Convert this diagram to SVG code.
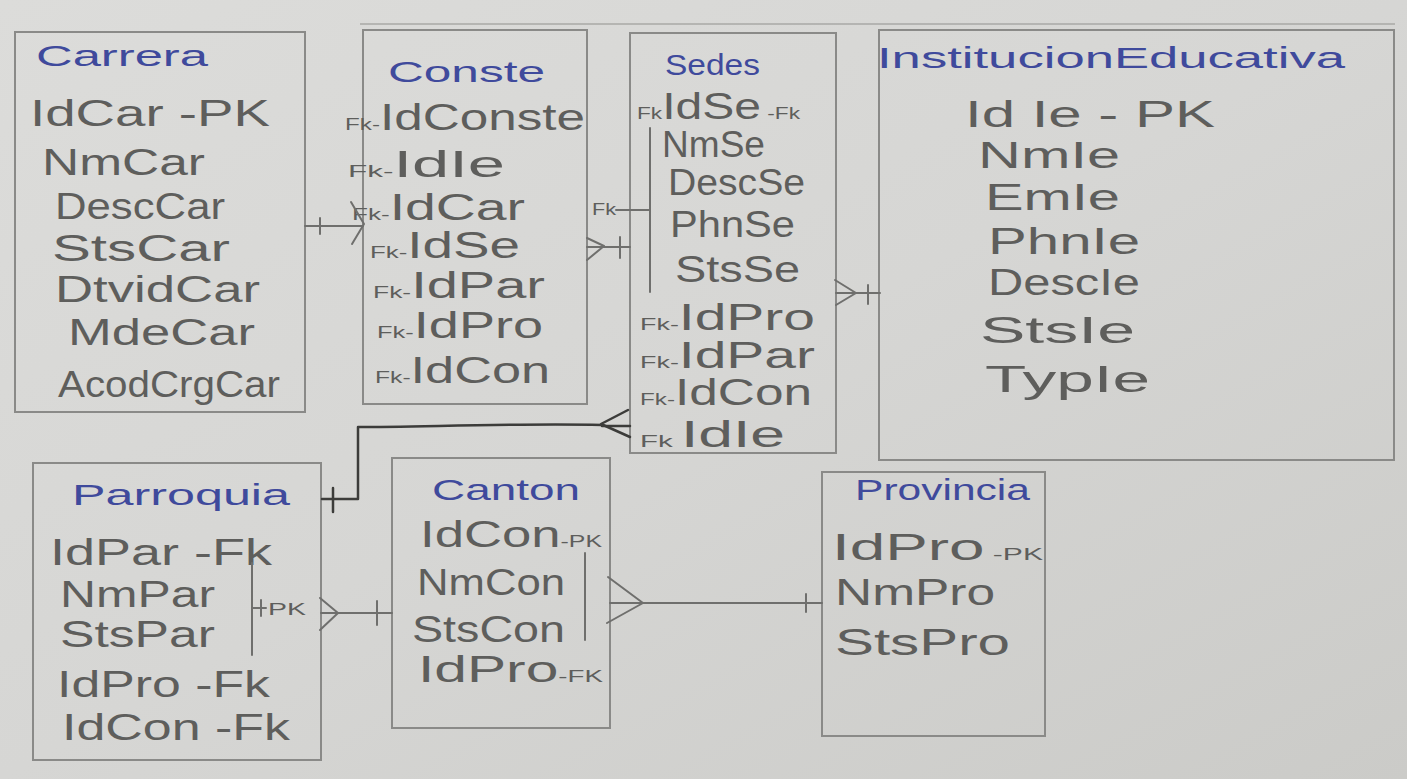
<svg xmlns="http://www.w3.org/2000/svg" width="1407" height="779" viewBox="0 0 1407 779">
<defs>
<linearGradient id="paper" x1="0" y1="0" x2="1" y2="1">
<stop offset="0" stop-color="#dcdcda"/>
<stop offset="0.5" stop-color="#d6d6d4"/>
<stop offset="1" stop-color="#cbcbc8"/>
</linearGradient>
</defs>
<style>
.box{fill:none;stroke:#8a8a88;stroke-width:2}
.t{font-family:"Liberation Sans",Arial,sans-serif;fill:#3f4a9c;font-size:30px}
.a{font-family:"Liberation Sans",Arial,sans-serif;fill:#5e5e5c;font-size:36px}
.s{font-size:17px}
.ln{fill:none;stroke:#6f6f6d;stroke-width:2;stroke-linecap:round;stroke-linejoin:round}
.dk{fill:none;stroke:#3c3c3a;stroke-width:2.5;stroke-linecap:round;stroke-linejoin:round}
</style>
<rect width="1407" height="779" fill="url(#paper)"/>
<line x1="360" y1="24" x2="1395" y2="24" stroke="#a8a8a6" stroke-width="1.5"/>

<g id="carrera">
<rect class="box" x="15" y="32" width="290" height="380"/>
<text class="t" x="36" y="66" textLength="172" lengthAdjust="spacingAndGlyphs">Carrera</text>
<text class="a" x="30" y="126" textLength="240" lengthAdjust="spacingAndGlyphs">IdCar -PK</text>
<text class="a" x="42" y="175" textLength="163" lengthAdjust="spacingAndGlyphs">NmCar</text>
<text class="a" x="55" y="219" textLength="170" lengthAdjust="spacingAndGlyphs">DescCar</text>
<text class="a" x="52" y="261" textLength="178" lengthAdjust="spacingAndGlyphs">StsCar</text>
<text class="a" x="55" y="302" textLength="205" lengthAdjust="spacingAndGlyphs">DtvidCar</text>
<text class="a" x="68" y="345" textLength="187" lengthAdjust="spacingAndGlyphs">MdeCar</text>
<text class="a" x="58" y="397" textLength="222" lengthAdjust="spacingAndGlyphs">AcodCrgCar</text>
</g>

<g id="conste">
<rect class="box" x="363" y="30" width="224" height="374"/>
<text class="t" x="388" y="82" textLength="157" lengthAdjust="spacingAndGlyphs">Conste</text>
<text class="a" x="345" y="130" textLength="240" lengthAdjust="spacingAndGlyphs"><tspan class="s">Fk-</tspan>IdConste</text>
<text class="a" x="348" y="177" textLength="157" lengthAdjust="spacingAndGlyphs"><tspan class="s">Fk-</tspan>IdIe</text>
<text class="a" x="352" y="220" textLength="173" lengthAdjust="spacingAndGlyphs"><tspan class="s">Fk-</tspan>IdCar</text>
<text class="a" x="370" y="258" textLength="150" lengthAdjust="spacingAndGlyphs"><tspan class="s">Fk-</tspan>IdSe</text>
<text class="a" x="373" y="298" textLength="172" lengthAdjust="spacingAndGlyphs"><tspan class="s">Fk-</tspan>IdPar</text>
<text class="a" x="377" y="338" textLength="166" lengthAdjust="spacingAndGlyphs"><tspan class="s">Fk-</tspan>IdPro</text>
<text class="a" x="375" y="383" textLength="175" lengthAdjust="spacingAndGlyphs"><tspan class="s">Fk-</tspan>IdCon</text>
</g>

<g id="sedes">
<rect class="box" x="630" y="33" width="206" height="420"/>
<text class="t" x="665" y="75" textLength="95" lengthAdjust="spacingAndGlyphs">Sedes</text>
<text class="a" x="637" y="119" textLength="163" lengthAdjust="spacingAndGlyphs"><tspan class="s">Fk</tspan>IdSe<tspan class="s"> -Fk</tspan></text>
<text class="a" x="662" y="157" textLength="103" lengthAdjust="spacingAndGlyphs">NmSe</text>
<text class="a" x="668" y="195" textLength="137" lengthAdjust="spacingAndGlyphs">DescSe</text>
<text class="a" x="670" y="237" textLength="125" lengthAdjust="spacingAndGlyphs">PhnSe</text>
<text class="a" x="675" y="282" textLength="125" lengthAdjust="spacingAndGlyphs">StsSe</text>
<text class="a" x="640" y="330" textLength="175" lengthAdjust="spacingAndGlyphs"><tspan class="s">Fk-</tspan>IdPro</text>
<text class="a" x="640" y="368" textLength="175" lengthAdjust="spacingAndGlyphs"><tspan class="s">Fk-</tspan>IdPar</text>
<text class="a" x="640" y="405" textLength="172" lengthAdjust="spacingAndGlyphs"><tspan class="s">Fk-</tspan>IdCon</text>
<text class="a" x="640" y="447" textLength="145" lengthAdjust="spacingAndGlyphs"><tspan class="s">Fk </tspan>IdIe</text>
<line class="ln" x1="650" y1="128" x2="650" y2="292"/>
</g>

<g id="institucion-educativa">
<rect class="box" x="879" y="30" width="515" height="430"/>
<text class="t" x="877" y="68" textLength="468" lengthAdjust="spacingAndGlyphs">InstitucionEducativa</text>
<text class="a" x="965" y="127" textLength="250" lengthAdjust="spacingAndGlyphs">Id Ie - PK</text>
<text class="a" x="978" y="168" textLength="142" lengthAdjust="spacingAndGlyphs">NmIe</text>
<text class="a" x="985" y="210" textLength="135" lengthAdjust="spacingAndGlyphs">EmIe</text>
<text class="a" x="988" y="254" textLength="152" lengthAdjust="spacingAndGlyphs">PhnIe</text>
<text class="a" x="988" y="295" textLength="152" lengthAdjust="spacingAndGlyphs">DescIe</text>
<text class="a" x="980" y="343" textLength="155" lengthAdjust="spacingAndGlyphs">StsIe</text>
<text class="a" x="985" y="392" textLength="165" lengthAdjust="spacingAndGlyphs">TypIe</text>
</g>

<g id="parroquia">
<rect class="box" x="33" y="463" width="288" height="297"/>
<text class="t" x="72" y="505" textLength="218" lengthAdjust="spacingAndGlyphs">Parroquia</text>
<text class="a" x="50" y="565" textLength="222" lengthAdjust="spacingAndGlyphs">IdPar -Fk</text>
<text class="a" x="60" y="607" textLength="155" lengthAdjust="spacingAndGlyphs">NmPar</text>
<text class="a" x="60" y="647" textLength="155" lengthAdjust="spacingAndGlyphs">StsPar</text>
<text class="a" x="57" y="697" textLength="213" lengthAdjust="spacingAndGlyphs">IdPro -Fk</text>
<text class="a" x="62" y="740" textLength="228" lengthAdjust="spacingAndGlyphs">IdCon -Fk</text>
<line class="ln" x1="252" y1="563" x2="252" y2="655"/>
<path class="ln" d="M252 608 H266 M261 600 V616"/>
<text class="a s" x="268" y="615" textLength="38" lengthAdjust="spacingAndGlyphs">PK</text>
</g>

<g id="canton">
<rect class="box" x="392" y="458" width="218" height="270"/>
<text class="t" x="432" y="500" textLength="148" lengthAdjust="spacingAndGlyphs">Canton</text>
<text class="a" x="420" y="547" textLength="182" lengthAdjust="spacingAndGlyphs">IdCon<tspan class="s">-PK</tspan></text>
<text class="a" x="417" y="595" textLength="148" lengthAdjust="spacingAndGlyphs">NmCon</text>
<text class="a" x="412" y="642" textLength="153" lengthAdjust="spacingAndGlyphs">StsCon</text>
<text class="a" x="418" y="682" textLength="185" lengthAdjust="spacingAndGlyphs">IdPro<tspan class="s">-FK</tspan></text>
<line class="ln" x1="585" y1="553" x2="585" y2="640"/>
</g>

<g id="provincia">
<rect class="box" x="822" y="472" width="223" height="264"/>
<text class="t" x="855" y="500" textLength="175" lengthAdjust="spacingAndGlyphs">Provincia</text>
<text class="a" x="832" y="560" textLength="211" lengthAdjust="spacingAndGlyphs">IdPro<tspan class="s"> -PK</tspan></text>
<text class="a" x="835" y="605" textLength="160" lengthAdjust="spacingAndGlyphs">NmPro</text>
<text class="a" x="835" y="655" textLength="175" lengthAdjust="spacingAndGlyphs">StsPro</text>
</g>

<g id="connectors">
<!-- Carrera to Conste -->
<path class="ln" d="M305 226 H363"/>
<path class="ln" d="M320 218 V234"/>
<path class="ln" d="M351 202 L364 224 L352 244"/>
<!-- Conste to Sedes -->
<path class="ln" d="M587 247 H630"/>
<path class="ln" d="M587 238 L604 246 L587 260"/>
<path class="ln" d="M620 237 V258"/>
<!-- Sedes bracket FK -->
<path class="ln" d="M616 210 H650"/>
<text class="a s" x="592" y="215" textLength="24" lengthAdjust="spacingAndGlyphs">Fk</text>
<!-- Sedes to InstitucionEducativa -->
<path class="ln" d="M836 293 H880"/>
<path class="ln" d="M835 280 L856 293 L836 305"/>
<path class="ln" d="M868 285 V304"/>
<!-- Sedes to Parroquia -->
<path class="dk" d="M630 426 H602"/>
<path class="dk" d="M628 410 L601 424 L630 437"/>
<path class="dk" d="M602 425 C520 423 420 427 358 427 V499 H322"/>
<path class="dk" d="M333 488 V512"/>
<!-- Parroquia to Canton -->
<path class="ln" d="M321 613 H392"/>
<path class="ln" d="M320 598 L338 613 L320 630"/>
<path class="ln" d="M377 601 V625"/>
<!-- Canton to Provincia -->
<path class="ln" d="M610 603 H822"/>
<path class="ln" d="M608 577 L643 603 L607 623"/>
<path class="ln" d="M806 594 V612"/>
</g>
</svg>
